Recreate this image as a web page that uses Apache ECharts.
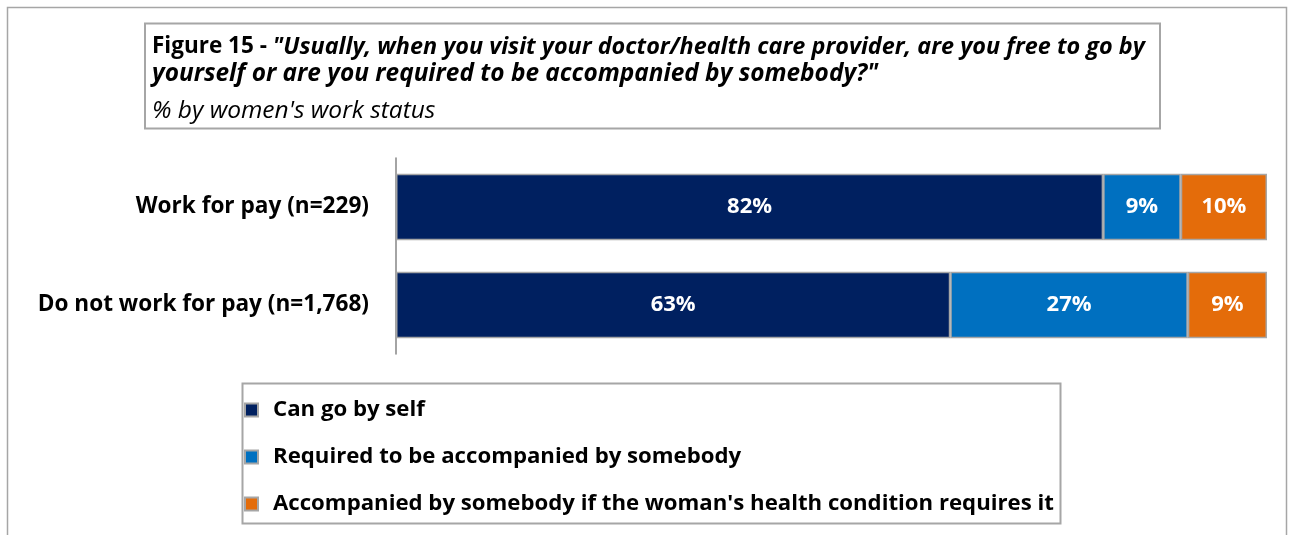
<!DOCTYPE html>
<html>
<head>
<meta charset="utf-8">
<script src="https://cdn.jsdelivr.net/npm/echarts@6/dist/echarts.min.js"></script>
<style>
  html, body { margin: 0; padding: 0; background: #ffffff; }
  #chart { width: 1296px; height: 535px; }
</style>
</head>
<body>
<div id="chart"></div>
<script>
// Categories (top to bottom) and the share of women in each answer group, in %
const categories = ['Work for pay (n=229)', 'Do not work for pay (n=1,768)'];
const canGoBySelf = [82, 63];
const requiredAccompanied = [9, 27];
const accompaniedIfHealth = [10, 9];

const seriesNames = [
  'Can go by self',
  'Required to be accompanied by somebody',
  "Accompanied by somebody if the woman's health condition requires it"
];
const seriesColors = ['#002060', '#0070C0', '#E46C0A'];

const FONT = '"Open Sans", Lato, sans-serif';
const FS = 22;
const rows = [canGoBySelf, requiredAccompanied, accompaniedIfHealth];

// 100% stacked: each bar spans its row total
const rowTotals = categories.map((_, i) => rows.reduce((s, r) => s + r[i], 0));

const series = rows.map((vals, k) => ({
  name: seriesNames[k],
  type: 'bar',
  stack: 'total',
  barCategoryGap: '32%',
  data: vals.map((v, i) => ({ value: v / rowTotals[i] * 100, raw: v })),
  itemStyle: { color: seriesColors[k], borderColor: '#A6A6A6', borderWidth: 1.5 },
  label: {
    show: true,
    position: 'inside',
    color: '#ffffff',
    fontFamily: FONT,
    fontWeight: 'bold',
    fontSize: FS,
    formatter: p => p.data.raw + '%'
  },
  emphasis: { disabled: true }
}));

const chart = echarts.init(document.getElementById('chart'));
chart.setOption({
  animation: false,
  backgroundColor: '#ffffff',
  grid: { left: 396, top: 158, width: 871, height: 196 },
  xAxis: {
    type: 'value', min: 0, max: 100, show: false
  },
  yAxis: {
    type: 'category',
    inverse: true,
    data: categories,
    axisLine: { show: true, lineStyle: { color: '#868686', width: 1.5 } },
    axisTick: { show: false },
    axisLabel: {
      margin: 27,
      color: '#000000',
      fontFamily: FONT,
      fontWeight: 'bold',
      fontSize: 22.6
    }
  },
  legend: {
    orient: 'vertical',
    left: 244,
    top: 399,
    padding: 0,
    itemWidth: 13,
    itemHeight: 13,
    itemGap: 25,
    icon: 'rect',
    selectedMode: false,
    data: seriesNames,
    textStyle: {
      color: '#000000',
      fontFamily: FONT,
      fontWeight: 'bold',
      fontSize: 22.2,
      lineHeight: 22,
      padding: [0, 0, 0, 10]
    }
  },
  graphic: [
    // outer frame
    {
      type: 'rect', silent: true, z: 0,
      shape: { x: 7.5, y: 7.5, width: 1279, height: 560 },
      style: { fill: 'none', stroke: '#A6A6A6', lineWidth: 1.5 }
    },
    // title box
    {
      type: 'rect', silent: true, z: 1,
      shape: { x: 145, y: 23.5, width: 1015, height: 105 },
      style: { fill: '#ffffff', stroke: '#A6A6A6', lineWidth: 2 }
    },
    {
      type: 'text', silent: true, z: 2,
      style: {
        x: 152, y: 47, verticalAlign: 'middle',
        text: '{b|Figure 15 - }{bi|"Usually, when you visit your doctor/health care provider, are you free to go by}',
        rich: {
          b: { fontFamily: FONT, fontWeight: 'bold', fontSize: 22.5, fill: '#000' },
          bi: { fontFamily: FONT, fontWeight: 'bold', fontStyle: 'italic', fontSize: 23.4, fill: '#000' }
        }
      }
    },
    {
      type: 'text', silent: true, z: 2,
      style: {
        x: 152, y: 74, verticalAlign: 'middle',
        text: 'yourself or are you required to be accompanied by somebody?"',
        font: 'italic bold 24.4px ' + FONT, fill: '#000'
      }
    },
    {
      type: 'text', silent: true, z: 2,
      style: {
        x: 152, y: 111, verticalAlign: 'middle',
        text: "% by women's work status",
        font: 'italic 24.5px ' + FONT, fill: '#000'
      }
    },
    // legend box
    {
      type: 'rect', silent: true, z: 1,
      shape: { x: 242.5, y: 383.5, width: 818, height: 140 },
      style: { fill: '#ffffff', stroke: '#A6A6A6', lineWidth: 2 }
    }
  ],
  series: series
});
</script>
</body>
</html>
